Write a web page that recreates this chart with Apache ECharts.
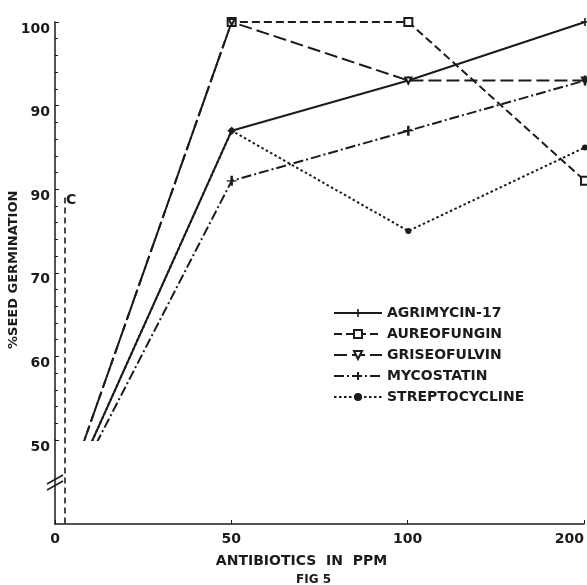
<!DOCTYPE html>
<html><head><meta charset="utf-8">
<script src="https://cdn.jsdelivr.net/npm/echarts@6/dist/echarts.min.js"></script>
<style>html,body{margin:0;padding:0;background:#fff}#c{width:587px;height:585px}</style>
</head><body><div id="c"></div>
<script>
// ---- data ----
const doses = ['0', '50', '100', '200'];            // antibiotics in ppm
const agrimycin      = [40, 87, 93, 100];
const aureofungin    = [40, 100, 100, 81];
const griseofulvin   = [40, 100, 93, 93];
const mycostatin     = [40, 81, 87, 93];
const streptocycline = [40, 87, 75, 85];
const seriesNames = ['AGRIMYCIN-17', 'AUREOFUNGIN', 'GRISEOFULVIN', 'MYCOSTATIN', 'STREPTOCYCLINE'];
const yTickValues = [50, 60, 70, 80, 90, 100];
const yTickLabels = ['50', '60', '70', '90', '90', '100']; // as printed in the figure
const xTitle = 'ANTIBIOTICS  IN  PPM';
const yTitle = '%SEED GERMINATION';
const figTitle = 'FIG 5';

const ink = '#1b1b1b';
const font = 'DejaVu Sans';

const chart = echarts.init(document.getElementById('c'), null, {renderer: 'canvas'});

function mkSeries(name, data, dash, symbol, size) {
  return {
    name, type: 'line', data, xAxisIndex: 0, yAxisIndex: 0,
    clip: true, symbol, symbolSize: size, showSymbol: true,
    lineStyle: {color: ink, width: 2, type: dash},
    itemStyle: {color: ink, borderWidth: 1.3},
    emphasis: {disabled: true}
  };
}
const plusPath = 'path://M4,0h2v10h-2zM0,4h10v2h-10z';
const myPath = 'path://M4,0h2v16h-2zM1,7h8v2h-8z';

const series = [
  mkSeries(seriesNames[0], agrimycin, 'solid', plusPath, 8),
  mkSeries(seriesNames[1], aureofungin, [8, 4], 'emptyRect', 8),
  mkSeries(seriesNames[2], griseofulvin, [13, 5], 'emptyTriangle', 6),
  mkSeries(seriesNames[3], mycostatin, [10, 3, 2, 3], myPath, 10),
  mkSeries(seriesNames[4], streptocycline, [2.5, 2.5], 'circle', 6)
];
series[2].symbolRotate = 180;

chart.setOption({
  animation: false,
  backgroundColor: '#fff',
  title: {
    text: figTitle, left: 291, top: 569,
    textStyle: {fontFamily: font, fontSize: 12, fontWeight: 'bold', color: ink}
  },
  legend: {
    data: seriesNames, orient: 'vertical', left: 333, top: 306, padding: 0,
    itemWidth: 48, itemHeight: 10, itemGap: 7,
    textStyle: {fontFamily: font, fontSize: 14, fontWeight: 'bold', color: ink},
    selectedMode: false
  },
  grid: [
    {left: 55, right: 2, top: 22, bottom: 145},
    {left: 55, right: 2, top: 440, bottom: 61}
  ],
  xAxis: [
    {type: 'category', gridIndex: 0, data: doses, boundaryGap: false, show: false},
    {type: 'category', gridIndex: 1, data: doses, boundaryGap: false,
     axisLine: {show: true, lineStyle: {color: ink, width: 1.5}},
     axisTick: {show: true, inside: true, length: 4, alignWithLabel: true, lineStyle: {color: ink}},
     axisLabel: {fontFamily: font, fontSize: 14, fontWeight: 'bold', color: ink, margin: 8, alignMaxLabel: 'right'},
     name: xTitle, nameLocation: 'middle', nameGap: 30,
     nameTextStyle: {fontFamily: font, fontSize: 14, fontWeight: 'bold', color: ink, padding: [0, 36, 0, 0]}}
  ],
  yAxis: [
    {type: 'value', gridIndex: 0, min: 50, max: 100, interval: 10,
     axisLine: {show: true, lineStyle: {color: ink, width: 1.5}},
     axisTick: {show: true, inside: true, length: 4, lineStyle: {color: ink}},
     minorTick: {show: true, splitNumber: 5, length: 3, lineStyle: {color: ink}},
     splitLine: {show: false},
     axisLabel: {
       fontFamily: font, fontSize: 14, fontWeight: 'bold', color: ink, margin: 5, verticalAlign: 'top',
       formatter: v => { const i = yTickValues.indexOf(v); return i >= 0 ? yTickLabels[i] : ''; }
     }},
    {type: 'value', gridIndex: 1, min: 40, max: 50,
     axisLine: {show: true, lineStyle: {color: ink, width: 1.5}},
     axisTick: {show: false}, axisLabel: {show: false}, splitLine: {show: false}}
  ],
  series
});

// annotations placed through the axes: control line "C", axis break marks, y title
const o = chart.convertToPixel({xAxisIndex: 1, yAxisIndex: 1}, ['0', 40]);
const br = chart.convertToPixel({xAxisIndex: 1, yAxisIndex: 1}, ['0', 45.0]);
const cTop = chart.convertToPixel({xAxisIndex: 0, yAxisIndex: 0}, ['0', 79]);
const mid = chart.convertToPixel({xAxisIndex: 0, yAxisIndex: 0}, ['0', 70]);
chart.setOption({
  graphic: [
    {type: 'line', shape: {x1: o[0] + 10, y1: cTop[1], x2: o[0] + 10, y2: o[1]},
     style: {stroke: ink, lineWidth: 1.6, lineDash: [6, 4]}},
    {type: 'text', x: o[0] + 11, y: cTop[1] + 3,
     style: {text: 'C', fill: ink, font: 'bold 14px "DejaVu Sans"', align: 'left', verticalAlign: 'middle'}},
    {type: 'rect', shape: {x: o[0] - 3, y: br[1] - 5, width: 6, height: 12}, style: {fill: '#fff'}},
    {type: 'line', shape: {x1: o[0] - 8, y1: br[1] + 2, x2: o[0] + 8, y2: br[1] - 7},
     style: {stroke: ink, lineWidth: 1.5}},
    {type: 'line', shape: {x1: o[0] - 8, y1: br[1] + 8, x2: o[0] + 8, y2: br[1] - 1},
     style: {stroke: ink, lineWidth: 1.5}},
    {type: 'text', x: 14, y: mid[1] - 3, rotation: Math.PI / 2,
     style: {text: yTitle, fill: ink, font: 'bold 13px "DejaVu Sans"', align: 'center', verticalAlign: 'middle'}}
  ]
});
</script></body></html>
